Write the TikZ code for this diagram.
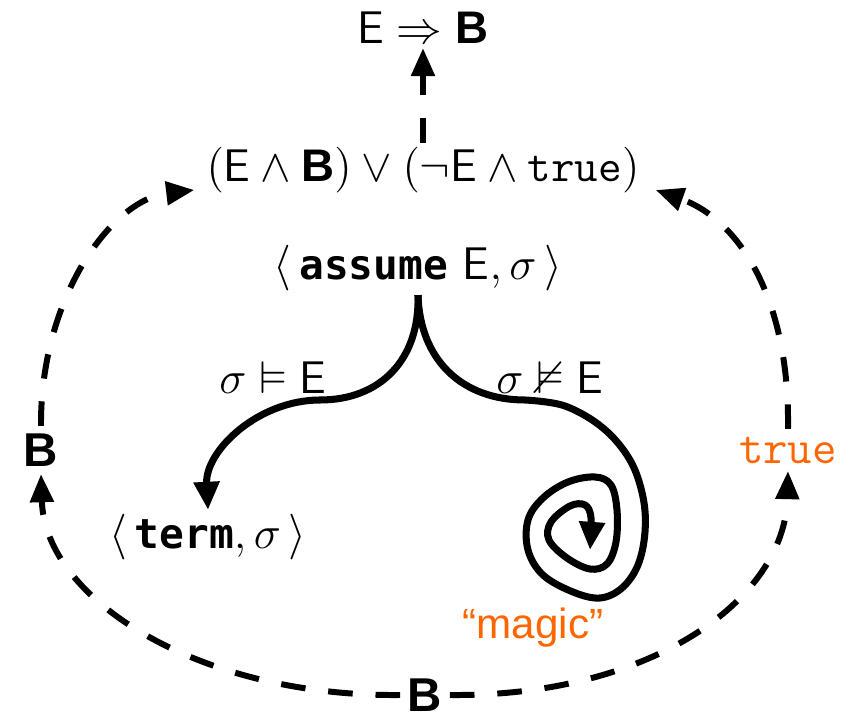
\RequirePackage{fix-cm}
\documentclass[tikz,border=0pt]{standalone}
\usepackage{amsmath}
\usepackage{amssymb}
\usepackage{fontspec}
\usepackage{xcolor}
\usetikzlibrary{arrows.meta}
\newfontfamily\helv{Liberation Sans}
\newfontfamily\kwfont[Scale=0.9]{DejaVu Sans Mono}
\definecolor{magicOrange}{HTML}{FF6600}
\newcommand{\kw}[1]{\text{\kwfont\bfseries #1}}
\newcommand{\bB}{\text{\helv\bfseries B}}
\newcommand{\sE}{\mathsf{E}}

\begin{document}
\begin{tikzpicture}[x=0.01cm, y=-0.01cm,
  every node/.style={inner sep=1pt},
  formula/.style={font=\fontsize{13}{15}\selectfont},
  blabel/.style={font=\fontsize{13.5}{16}\selectfont\helv\bfseries,
                 inner sep=2pt},
  orangelabel/.style={text=magicOrange, inner sep=2pt},
  flow/.style={dash pattern=on 7pt off 6.5pt, line width=1.7pt,
               -{Triangle[length=8pt, width=6.5pt]}},
  branch/.style={line width=2pt,
                 -{Triangle[length=8pt, width=7pt]}},
]
\useasboundingbox (0,0) rectangle (856,718);

% --- Formulas and configurations -----------------------------------
\node[formula] (impl)   at (423,28)  {$\sE \Rightarrow \bB$};
\node[formula] (wp)     at (423,170)
  {$(\sE \wedge \bB) \vee (\neg\sE \wedge \mathtt{true})$};
\node[formula] (assume) at (418,268)
  {$\langle\, \kw{assume}\ \sE, \sigma \,\rangle$};
\node[formula] (sat)    at (273,378) {$\sigma \vDash \sE$};
\node[formula] (unsat)  at (550,378) {$\sigma \nvDash \sE$};
\node[formula] (term)   at (208,537)
  {$\langle\, \kw{term}, \sigma \,\rangle$};

% --- Orange annotations and the B labels on the loop ---------------
\node[orangelabel, font=\fontsize{12}{14}\selectfont\helv]
  (magic) at (533,628) {“magic”};
\node[orangelabel, font=\fontsize{13.5}{15}\selectfont\ttfamily]
  (true) at (788,450) {true};
\node[blabel] (bleft) at (41,450)  {B};
\node[blabel] (bbot)  at (425,695) {B};

% --- Branches out of assume ----------------------------------------
\draw[branch] (assume.south)
  .. controls (420,360) and (380,400) .. (320,400)
  .. controls (258,400) and (205,451) .. (term.north);

\coordinate (swirl) at (590,550);
\draw[branch] (assume.south)
  .. controls (420,360) and (462,400) .. (525,400)
  -- plot[smooth, tension=0.6] coordinates {
    (525,400) (565,406) (603,428) (630,460) (643,497) (645,532)
    (638,565) (622,588) (600,598) (573,592) (543,575) (528,550)
    (528,520) (543,498) (568,482) (595,477) (611,485) (617,510)
    (616,542) (607,564) (590,569) (567,558) (549,540) (551,522)
    (570,506) (585,505) (591,518) (swirl)};

% --- Dashed loop back up to the weakest precondition ---------------
\draw[flow] (wp.north) -- (impl.south);
\draw[flow] (bbot.west)
  .. controls (200,697) and (45,600) .. (bleft.south);
\draw[flow] (bleft.north)
  .. controls (40,300) and (110,200) .. ([shift={(-8,20)}]wp.west);
\draw[flow] (bbot.east)
  .. controls (650,697) and (785,600) .. (true.south);
\draw[flow] (true.north)
  .. controls (790,300) and (740,220) .. ([shift={(12,20)}]wp.east);
\end{tikzpicture}
\end{document}
